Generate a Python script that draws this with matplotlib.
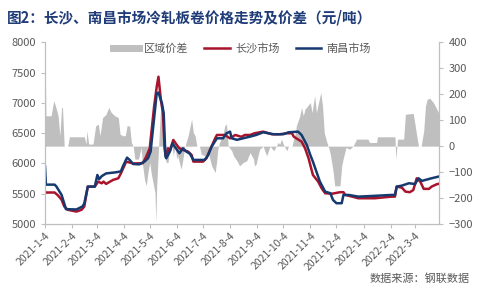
import pandas as pd
import matplotlib.pyplot as plt
from matplotlib.lines import Line2D

plt.rcParams['font.family'] = ['Noto Sans CJK SC', 'DejaVu Sans']

# 南昌市场
nc_dates = ['2021-01-04', '2021-01-05', '2021-01-15', '2021-01-17', '2021-01-23', '2021-01-26',
            '2021-01-28', '2021-02-09', '2021-02-16', '2021-02-18', '2021-02-22', '2021-03-02',
            '2021-03-05', '2021-03-07', '2021-03-10', '2021-03-15', '2021-03-27', '2021-04-01',
            '2021-04-03', '2021-04-08', '2021-04-11', '2021-04-15', '2021-04-22', '2021-04-28',
            '2021-05-02', '2021-05-05', '2021-05-06', '2021-05-10', '2021-05-12', '2021-05-14',
            '2021-05-18', '2021-05-20', '2021-05-22', '2021-05-23', '2021-05-27', '2021-05-30',
            '2021-06-03', '2021-06-07', '2021-06-11', '2021-06-15', '2021-06-19', '2021-06-23',
            '2021-07-06', '2021-07-10', '2021-07-14', '2021-07-20', '2021-07-27', '2021-07-31',
            '2021-08-04', '2021-08-06', '2021-08-12', '2021-08-19', '2021-08-27', '2021-09-03',
            '2021-09-11', '2021-09-23', '2021-10-04', '2021-10-10', '2021-10-21', '2021-10-25',
            '2021-10-31', '2021-11-04', '2021-11-07', '2021-11-11', '2021-11-15', '2021-11-19',
            '2021-11-21', '2021-11-27', '2021-11-30', '2021-12-04', '2021-12-10', '2021-12-12',
            '2021-12-18', '2021-12-29', '2022-01-17', '2022-02-05', '2022-02-09', '2022-02-11',
            '2022-02-17', '2022-02-25', '2022-03-04', '2022-03-08', '2022-03-12', '2022-03-16',
            '2022-03-23', '2022-03-31', '2022-04-01']
nc_price = [5950, 5650, 5650, 5620, 5480, 5340,
            5245, 5240, 5290, 5340, 5617, 5617,
            5810, 5740, 5790, 5835, 5855, 5870,
            5945, 6096, 6058, 5990, 5985, 6030,
            6085, 6195, 6333, 6883, 7158, 7170,
            6993, 6828, 6113, 6085, 6195, 6333,
            6250, 6168, 6250, 6195, 6160, 6058,
            6058, 6140, 6278, 6415, 6415, 6498,
            6525, 6415, 6390, 6415, 6443, 6470,
            6514, 6482, 6482, 6514, 6525, 6470,
            6305, 6140, 6030, 5865, 5700, 5590,
            5535, 5508, 5398, 5343, 5343, 5480,
            5480, 5452, 5465, 5480, 5480, 5617,
            5634, 5673, 5660, 5755, 5711, 5728,
            5755, 5783, 5785]

# 长沙市场
cs_dates = ['2021-01-04', '2021-01-15', '2021-01-19', '2021-01-23', '2021-01-26', '2021-01-30',
            '2021-02-09', '2021-02-15', '2021-02-18', '2021-02-22', '2021-03-02', '2021-03-06',
            '2021-03-10', '2021-03-12', '2021-03-15', '2021-03-23', '2021-03-29', '2021-04-01',
            '2021-04-07', '2021-04-15', '2021-04-26', '2021-04-30', '2021-05-04', '2021-05-05',
            '2021-05-09', '2021-05-12', '2021-05-14', '2021-05-17', '2021-05-19', '2021-05-21',
            '2021-05-22', '2021-05-23', '2021-05-25', '2021-05-27', '2021-05-31', '2021-06-04',
            '2021-06-07', '2021-06-11', '2021-06-17', '2021-06-21', '2021-06-23', '2021-07-04',
            '2021-07-08', '2021-07-12', '2021-07-18', '2021-07-20', '2021-07-29', '2021-08-04',
            '2021-08-10', '2021-08-17', '2021-08-21', '2021-08-27', '2021-09-01', '2021-09-11',
            '2021-09-21', '2021-09-30', '2021-10-08', '2021-10-14', '2021-10-16', '2021-10-19',
            '2021-10-25', '2021-10-29', '2021-11-02', '2021-11-04', '2021-11-07', '2021-11-13',
            '2021-11-17', '2021-11-21', '2021-11-29', '2021-12-08', '2021-12-12', '2021-12-14',
            '2021-12-22', '2021-12-29', '2022-01-17', '2022-02-05', '2022-02-09', '2022-02-11',
            '2022-02-17', '2022-02-21', '2022-02-26', '2022-03-02', '2022-03-06', '2022-03-10',
            '2022-03-14', '2022-03-20', '2022-03-23', '2022-03-29', '2022-04-01']
cs_price = [5520, 5520, 5470, 5400, 5290, 5235,
            5205, 5235, 5290, 5617, 5617, 5700,
            5672, 5700, 5662, 5728, 5755, 5838,
            6030, 6000, 6003, 6113, 6250, 6388,
            6937, 7267, 7432, 7020, 6855, 6250,
            6140, 6140, 6250, 6200, 6388, 6305,
            6250, 6223, 6195, 6140, 6030, 6030,
            6085, 6223, 6415, 6470, 6470, 6415,
            6470, 6440, 6470, 6470, 6498, 6525,
            6482, 6482, 6498, 6498, 6443, 6415,
            6360, 6250, 6085, 5975, 5810, 5700,
            5590, 5508, 5500, 5525, 5525, 5480,
            5452, 5425, 5425, 5452, 5452, 5617,
            5600, 5535, 5525, 5560, 5755, 5700,
            5580, 5580, 5617, 5657, 5665]

# 区域价差
sp_dates = ['2021-01-04', '2021-01-05', '2021-01-11', '2021-01-14', '2021-01-16', '2021-01-19',
            '2021-01-21', '2021-01-23', '2021-01-24', '2021-01-26', '2021-01-30', '2021-02-01',
            '2021-02-18', '2021-02-20', '2021-02-21', '2021-02-23', '2021-02-28', '2021-03-03',
            '2021-03-06', '2021-03-08', '2021-03-11', '2021-03-15', '2021-03-18', '2021-03-21',
            '2021-03-25', '2021-03-29', '2021-03-31', '2021-04-03', '2021-04-06', '2021-04-08',
            '2021-04-11', '2021-04-13', '2021-04-15', '2021-04-17', '2021-04-21', '2021-04-22',
            '2021-04-24', '2021-04-26', '2021-04-28', '2021-04-30', '2021-05-02', '2021-05-04',
            '2021-05-06', '2021-05-10', '2021-05-11', '2021-05-12', '2021-05-14', '2021-05-15',
            '2021-05-17', '2021-05-19', '2021-05-20', '2021-05-22', '2021-05-23', '2021-05-25',
            '2021-05-27', '2021-05-29', '2021-05-31', '2021-06-02', '2021-06-04', '2021-06-05',
            '2021-06-09', '2021-06-11', '2021-06-13', '2021-06-17', '2021-06-19', '2021-06-21',
            '2021-06-23', '2021-06-25', '2021-06-27', '2021-06-30', '2021-07-02', '2021-07-06',
            '2021-07-10', '2021-07-14', '2021-07-18', '2021-07-20', '2021-07-21', '2021-07-23',
            '2021-07-27', '2021-07-29', '2021-07-31', '2021-08-02', '2021-08-06', '2021-08-08',
            '2021-08-12', '2021-08-15', '2021-08-19', '2021-08-23', '2021-08-27', '2021-08-31',
            '2021-09-01', '2021-09-03', '2021-09-05', '2021-09-07', '2021-09-11', '2021-09-13',
            '2021-09-15', '2021-09-17', '2021-09-19', '2021-09-23', '2021-09-26', '2021-09-28',
            '2021-09-30', '2021-10-02', '2021-10-04', '2021-10-08', '2021-10-10', '2021-10-14',
            '2021-10-16', '2021-10-18', '2021-10-19', '2021-10-23', '2021-10-25', '2021-10-27',
            '2021-10-29', '2021-11-01', '2021-11-04', '2021-11-06', '2021-11-09', '2021-11-11',
            '2021-11-13', '2021-11-16', '2021-11-18', '2021-11-20', '2021-11-23', '2021-11-25',
            '2021-11-27', '2021-11-30', '2021-12-02', '2021-12-08', '2021-12-10', '2021-12-12',
            '2021-12-15', '2021-12-19', '2021-12-23', '2021-12-27', '2022-01-09', '2022-01-11',
            '2022-01-19', '2022-01-20', '2022-02-09', '2022-02-10', '2022-02-12', '2022-02-19',
            '2022-02-21', '2022-03-02', '2022-03-06', '2022-03-08', '2022-03-11', '2022-03-14',
            '2022-03-16', '2022-03-18', '2022-03-21', '2022-03-25', '2022-03-31', '2022-04-01']
spread = [400, 117, 117, 175, 155, 117,
          40, 149, 149, 0, 0, 36,
          36, 8, 59, 8, 8, 78,
          85, 40, 110, 123, 149, 129,
          117, 110, 46, 40, 40, 78,
          78, 14, 0, -50, -50, -37,
          -5, -76, -128, -153, -100, -63,
          -110, -179, -294, -153, -12, 52,
          181, 104, 0, -50, -63, -63,
          0, 14, -37, 0, -50, -37,
          -89, -50, -5, 40, 72, 104,
          52, 40, 0, 0, -31, -37,
          -25, -76, -102, -50, -12, 14,
          46, 78, 85, 0, -18, -37,
          -57, -76, -63, -57, -25, -50,
          -76, -69, -37, -12, 0, -20,
          -37, -18, 0, -18, 0, 14,
          8, 27, 8, -18, 0, 0,
          27, 52, 78, 117, 149, 117,
          143, 155, 168, 129, 194, 129,
          160, 206, 155, 52, 14, -5,
          -31, -95, -153, -153, -76, -44,
          -5, -12, 0, 27, 27, 14,
          14, 36, 36, -50, 27, 27,
          123, 126, 40, 0, 0, 59,
          155, 181, 184, 168, 129, 130]

tick_dates = ['2021-01-04', '2021-02-04', '2021-03-04', '2021-04-04', '2021-05-04', '2021-06-04',
              '2021-07-04', '2021-08-04', '2021-09-04', '2021-10-04', '2021-11-04', '2021-12-04',
              '2022-01-04', '2022-02-04', '2022-03-04']
tick_labels = ['2021-1-4', '2021-2-4', '2021-3-4', '2021-4-4', '2021-5-4', '2021-6-4',
               '2021-7-4', '2021-8-4', '2021-9-4', '2021-10-4', '2021-11-4', '2021-12-4',
               '2022-1-4', '2022-2-4', '2022-3-4']

red = '#A8142C'
blue = '#163A70'
grey_txt = '#595959'
spine_c = '#BFBFBF'

fig = plt.figure(figsize=(4.81, 2.90), dpi=100)
ax = fig.add_axes([0.0936, 0.2276, 0.82, 0.6265])
ax2 = ax.twinx()
# lines in front of the spread area
ax.set_zorder(ax2.get_zorder() + 1)
ax.patch.set_visible(False)

sp_x = pd.to_datetime(sp_dates)
ax2.fill_between(sp_x, 0, spread, color='#BFBFBF', linewidth=0)
ax.plot(pd.to_datetime(cs_dates), cs_price, color=red, lw=1.8)
ax.plot(pd.to_datetime(nc_dates), nc_price, color=blue, lw=1.8)

ax.set_ylim(5000, 8000)
ax.set_yticks(range(5000, 8001, 500))
ax2.set_ylim(-300, 400)
ax2.set_yticks(range(-300, 401, 100))
ax.set_xlim(pd.Timestamp('2021-01-04'), pd.Timestamp('2022-04-01'))
ax.set_xticks(pd.to_datetime(tick_dates))
ax.set_xticklabels(tick_labels, rotation=45, ha='right', rotation_mode='anchor')

for a in (ax, ax2):
    for s in a.spines.values():
        s.set_color(spine_c)
        s.set_linewidth(0.8)
    a.spines['top'].set_visible(False)
    a.tick_params(colors=spine_c, labelcolor=grey_txt, labelsize=8, length=3, width=0.8)
ax.tick_params(axis='x', labelsize=7.5, pad=2)

handles = [Line2D([], [], color='#BFBFBF', lw=5),
           Line2D([], [], color=red, lw=1.8),
           Line2D([], [], color=blue, lw=1.8)]
ax.legend(handles, ['区域价差', '长沙市场', '南昌市场'], loc='center', bbox_to_anchor=(0.5, 0.965),
          ncol=3, frameon=False, fontsize=8, handlelength=2.3, handletextpad=0.5,
          columnspacing=1.4, labelcolor=grey_txt)

fig.text(0.014, 0.94, '图2：长沙、南昌市场冷轧板卷价格走势及价差（元/吨）', fontsize=10.5,
         fontweight='bold', color='#1F3C78', va='center')
fig.text(0.977, 0.038, '数据来源：钢联数据', fontsize=8, color=grey_txt, ha='right', va='center')

fig.savefig('out.png', dpi=100)
